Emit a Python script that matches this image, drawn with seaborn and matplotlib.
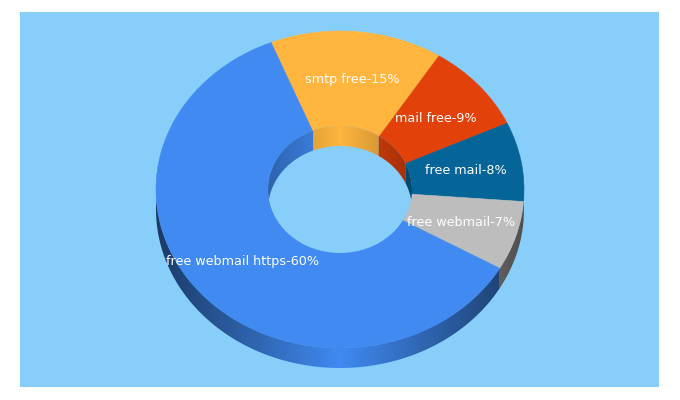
import numpy as np
import matplotlib
matplotlib.use("Agg")
import matplotlib.pyplot as plt
from matplotlib.patches import Ellipse, Polygon
from matplotlib.colors import to_rgb
import seaborn as sns

categories = ["smtp free", "mail free", "free mail", "free webmail", "free webmail https"]
shares = [15, 9, 8, 7, 60]
slice_colors = ["#FFB53E", "#E2420A", "#056598", "#BDBDBD", "#408AF1"]
background = "#87CEFA"

W, H = 680, 400
BOX = (20, 12, 659, 387)          # left, top, right, bottom in pixels
CX, CY = 340.0, 189.5
RX, RY = 184.0, 158.5
HOLE_RX, HOLE_RY = 72.0, 63.5
DEPTH = 20.0
START = 112.0
LABEL_PX = [(352, 79.5), (436, 118), (466, 171), (461, 223), (243, 262)]

sns.set_theme(style="white")
plt.rcParams["font.family"] = ["DejaVu Sans"]
palette = sns.color_palette(slice_colors)

fig = plt.figure(figsize=(W / 100, H / 100), dpi=100, facecolor="white")
ax = fig.add_axes([BOX[0] / W, (H - BOX[3]) / H, (BOX[2] - BOX[0]) / W, (BOX[3] - BOX[1]) / H])

wedges, _ = ax.pie(shares, colors=palette, startangle=START, counterclock=False, radius=1.0,
                   wedgeprops=dict(linewidth=0.4, zorder=3))
for w in wedges:
    w.set_edgecolor(w.get_facecolor())

ax.set_frame_on(True)
ax.set_facecolor(background)
for s in ax.spines.values():
    s.set_visible(False)
ax.set_xticks([])
ax.set_yticks([])

depth = DEPTH / RY
hx, hy = HOLE_RX / RX, HOLE_RY / RY

fractions = np.array(shares, dtype=float) / sum(shares)
edges = START - np.concatenate([[0], np.cumsum(fractions)]) * 360.0

hole = Ellipse((0, 0), 2 * hx, 2 * hy, facecolor=background, edgecolor="none", zorder=4)
ax.add_patch(hole)


def shaded_wall(a0, a1, rx, ry, color, strength, zorder, inner):
    """Draw one piece of wall between two angles, a horizontal gradient clipped to its outline."""
    if a0 - a1 < 1e-6:
        return
    t = np.radians(np.linspace(a0, a1, max(3, int((a0 - a1) * 2))))
    x = rx * np.cos(t)
    upper = ry * np.sin(t)
    lower = upper - depth
    if inner:  # the far wall only shows through the hole
        lower = np.maximum(lower, -upper)
    outline = np.r_[np.c_[x, upper], np.c_[x, lower][::-1]]
    ramp = np.linspace(-1, 1, 801)
    base = np.array(to_rgb(color))
    img = (1 - strength * np.abs(ramp))[None, :, None] * base
    im = ax.imshow(img, extent=(-rx, rx, -ry - depth, ry), aspect="auto",
                   interpolation="bilinear", zorder=zorder)
    clip = Polygon(outline, closed=True, transform=ax.transData, facecolor="none", edgecolor="none")
    im.set_clip_path(clip)


for i, col in enumerate(palette):
    a0, a1 = edges[i], edges[i + 1]
    # near (outer) wall: the lower half of the ellipse, angles -180..0
    shaded_wall(min(a0, 0), max(a1, -180), 1.0, 1.0, col, 0.58, 2, False)
    # far (inner) wall: the upper half of the ellipse, angles 0..180 and again -360..-180
    shaded_wall(min(a0, 180), max(a1, 0), hx, hy, col, 0.28, 5, True)
    shaded_wall(min(a0, -180), max(a1, -360), hx, hy, col, 0.28, 5, True)

ax.set_aspect("auto")
ax.set_xlim((BOX[0] - CX) / RX, (BOX[2] - CX) / RX)
ax.set_ylim((CY - BOX[3]) / RY, (CY - BOX[1]) / RY)

for cat, share, (px, py) in zip(categories, shares, LABEL_PX):
    ax.text((px - CX) / RX, (CY - py) / RY, f"{cat}-{share}%", color="white",
            fontsize=9.2, ha="center", va="center", zorder=6)

fig.savefig("out.png", dpi=100, facecolor="white")
